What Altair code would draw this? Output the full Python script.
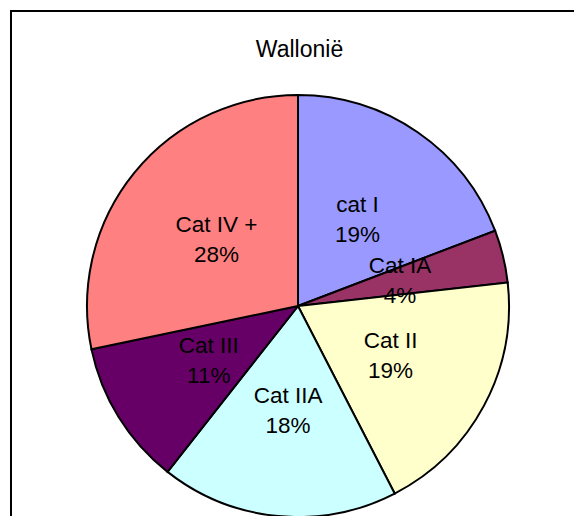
import altair as alt
import pandas as pd

categories = ["cat I", "Cat IA", "Cat II", "Cat IIA", "Cat III", "Cat IV +"]
values = [19, 4, 19, 18, 11, 28]
colors = ["#9999FF", "#993366", "#FFFFCC", "#CCFFFF", "#660066", "#FF8080"]
title_text = "Wallonië"

df = pd.DataFrame({
    "cat": categories,
    "value": values,
    "idx": list(range(len(categories))),
    "label": [f"{c}\n{v}%" for c, v in zip(categories, values)],
})

CX, CY = 287, 295
R = 211

base = alt.Chart(df).encode(
    theta=alt.Theta("value:Q", stack=True),
    order=alt.Order("idx:Q"),
)

arcs = base.mark_arc(radius=R, stroke="black", strokeWidth=2).encode(
    x=alt.value(CX),
    y=alt.value(CY),
    color=alt.Color("cat:N", scale=alt.Scale(domain=categories, range=colors), legend=None),
)

labels = base.mark_text(
    radius=105, fontSize=22.5, font="Liberation Sans", lineBreak="\n",
    lineHeight=30, align="center", baseline="middle", color="black", dy=-15,
).encode(
    x=alt.value(CX),
    y=alt.value(CY),
    text="label:N",
)

chart = alt.layer(arcs, labels).properties(
    width=581,
    height=523,
    padding={"left": 3, "top": 3, "right": -18, "bottom": -18},
    autosize=alt.AutoSizeParams(type="none"),
    background="white",
    title=alt.TitleParams(
        title_text, fontSize=23, font="Liberation Sans", fontWeight="normal",
        color="black", anchor="middle", orient="top", offset=-69,
        baseline="alphabetic", dx=-2,
    ),
).configure_view(stroke="black", strokeWidth=2)

chart.save("out.html", embed_options={"renderer": "svg", "actions": False})
